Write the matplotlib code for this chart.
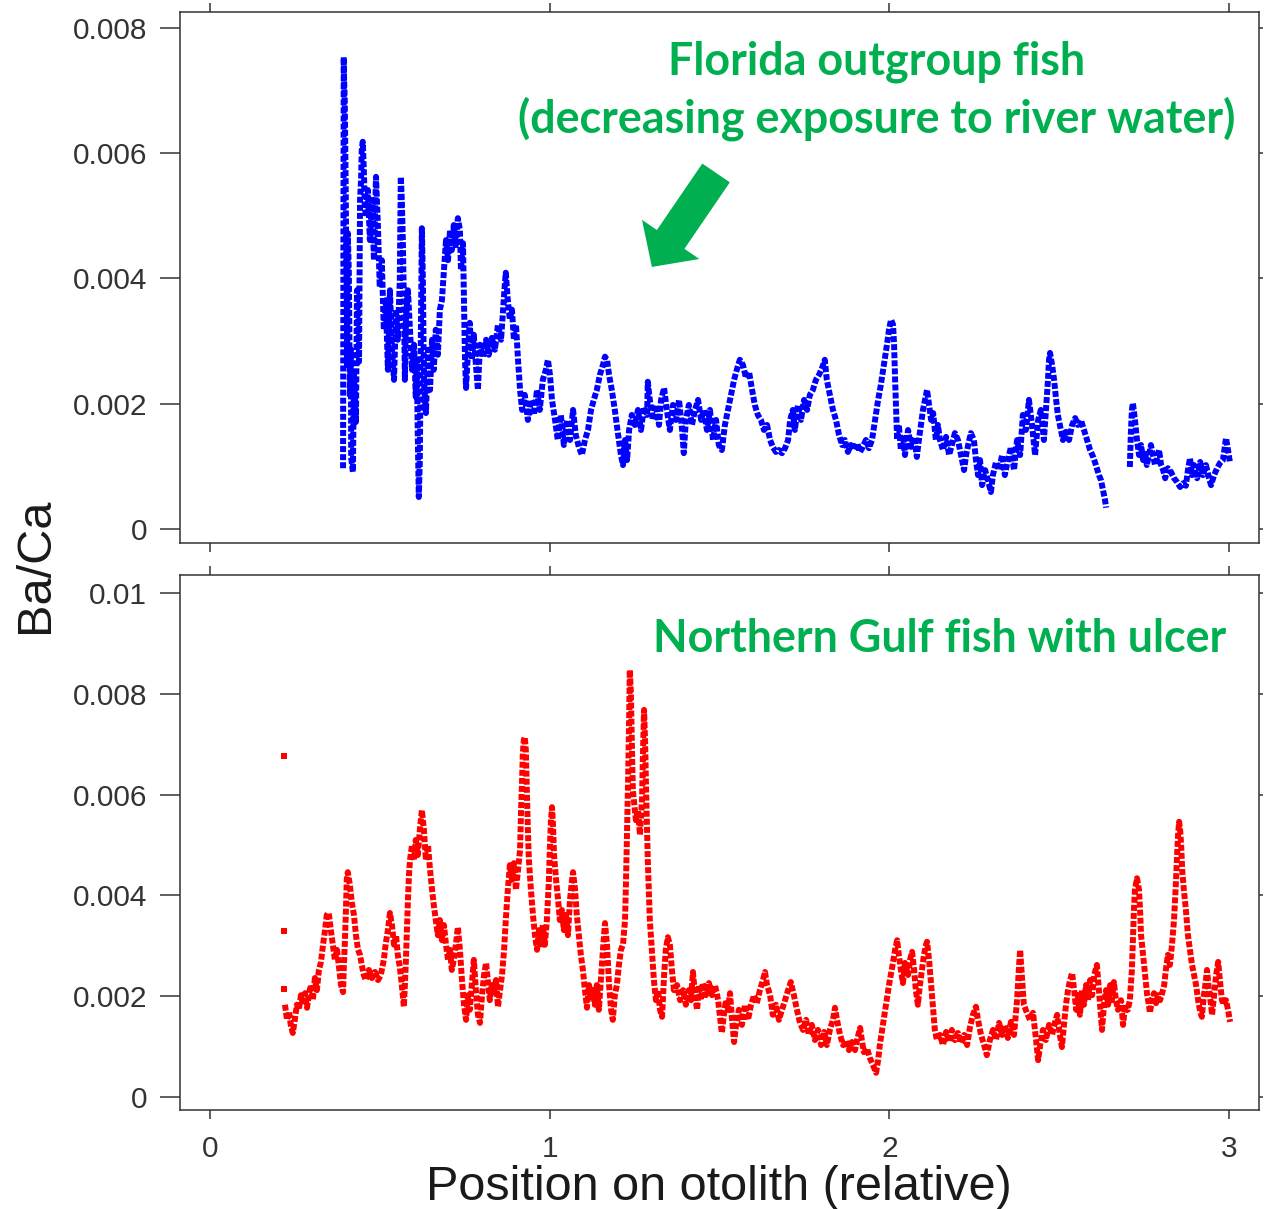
import numpy as np
import matplotlib
matplotlib.use("Agg")
import matplotlib.pyplot as plt

plt.rcParams['font.family'] = ['Liberation Sans', 'DejaVu Sans']

# Florida outgroup fish: position on otolith (relative), Ba/Ca in units of 1e-3
fl_pos = [
    0.392, 0.394, 0.395, 0.397, 0.398, 0.399, 0.400, 0.401, 0.403, 0.404,
    0.406, 0.409, 0.410, 0.412, 0.415, 0.416, 0.421, 0.424, 0.427, 0.430,
    0.433, 0.436, 0.439, 0.442, 0.445, 0.447, 0.450, 0.453, 0.456, 0.459,
    0.465, 0.471, 0.477, 0.483, 0.489, 0.495, 0.500, 0.506, 0.512, 0.518,
    0.524, 0.530, 0.536, 0.542, 0.548, 0.553, 0.559, 0.562, 0.565, 0.568,
    0.571, 0.574, 0.577, 0.583, 0.589, 0.595, 0.601, 0.606, 0.609, 0.612,
    0.615, 0.618, 0.621, 0.624, 0.627, 0.630, 0.636, 0.642, 0.648, 0.654,
    0.659, 0.665, 0.671, 0.677, 0.683, 0.689, 0.695, 0.701, 0.707, 0.712,
    0.718, 0.724, 0.730, 0.736, 0.739, 0.745, 0.748, 0.751, 0.754, 0.760,
    0.765, 0.771, 0.777, 0.783, 0.789, 0.795, 0.804, 0.813, 0.821, 0.830,
    0.839, 0.848, 0.857, 0.863, 0.868, 0.871, 0.877, 0.883, 0.889, 0.895,
    0.901, 0.907, 0.913, 0.919, 0.927, 0.936, 0.945, 0.954, 0.963, 0.971,
    0.980, 0.989, 0.995, 1.001, 1.007, 1.016, 1.024, 1.033, 1.042, 1.051,
    1.060, 1.069, 1.077, 1.086, 1.095, 1.104, 1.113, 1.122, 1.130, 1.139,
    1.148, 1.157, 1.163, 1.169, 1.175, 1.183, 1.192, 1.201, 1.210, 1.216,
    1.222, 1.228, 1.234, 1.242, 1.251, 1.260, 1.269, 1.278, 1.287, 1.289,
    1.295, 1.304, 1.313, 1.322, 1.328, 1.337, 1.345, 1.354, 1.363, 1.372,
    1.381, 1.390, 1.395, 1.401, 1.410, 1.419, 1.428, 1.437, 1.446, 1.454,
    1.463, 1.472, 1.481, 1.490, 1.498, 1.507, 1.516, 1.525, 1.534, 1.543,
    1.551, 1.560, 1.569, 1.578, 1.587, 1.596, 1.604, 1.613, 1.622, 1.631,
    1.640, 1.649, 1.657, 1.666, 1.675, 1.684, 1.693, 1.702, 1.708, 1.716,
    1.722, 1.731, 1.740, 1.749, 1.758, 1.766, 1.775, 1.784, 1.793, 1.802,
    1.810, 1.816, 1.825, 1.834, 1.843, 1.852, 1.861, 1.869, 1.878, 1.887,
    1.896, 1.905, 1.914, 1.922, 1.931, 1.940, 1.949, 1.958, 1.967, 1.975,
    1.984, 1.993, 1.999, 2.005, 2.011, 2.014, 2.017, 2.020, 2.023, 2.028,
    2.034, 2.040, 2.046, 2.055, 2.064, 2.073, 2.081, 2.087, 2.093, 2.099,
    2.105, 2.111, 2.117, 2.123, 2.129, 2.137, 2.143, 2.149, 2.158, 2.167,
    2.176, 2.184, 2.193, 2.202, 2.211, 2.220, 2.226, 2.232, 2.240, 2.249,
    2.255, 2.261, 2.267, 2.273, 2.282, 2.290, 2.299, 2.305, 2.314, 2.323,
    2.332, 2.340, 2.349, 2.358, 2.367, 2.376, 2.385, 2.393, 2.402, 2.411,
    2.420, 2.429, 2.438, 2.446, 2.455, 2.461, 2.467, 2.470, 2.473, 2.479,
    2.485, 2.491, 2.496, 2.502, 2.511, 2.520, 2.529, 2.538, 2.547, 2.555,
    2.564, 2.573, 2.582, 2.591, 2.600, 2.608, 2.617, 2.623, 2.629, 2.635,
    2.638, 2.670, 2.708, 2.711, 2.714, 2.717, 2.723, 2.729, 2.735, 2.741,
    2.747, 2.753, 2.758, 2.764, 2.770, 2.776, 2.782, 2.788, 2.794, 2.800,
    2.806, 2.812, 2.820, 2.829, 2.838, 2.847, 2.856, 2.865, 2.873, 2.879,
    2.885, 2.891, 2.897, 2.906, 2.915, 2.923, 2.932, 2.941, 2.947, 2.956,
    2.965, 2.973, 2.982, 2.988, 2.991, 2.997, 3.003,
]
fl_baca = [
    0.97, 7.53, 7.17, 6.85, 6.37, 5.92, 5.33, 4.61, 3.65, 2.62,
    4.72, 4.10, 3.54, 2.11, 2.86, 1.13, 0.91, 2.49, 2.06, 1.71,
    3.81, 3.30, 2.67, 5.25, 5.57, 6.05, 6.18, 5.76, 5.17, 4.98,
    5.41, 4.61, 5.25, 4.29, 5.62, 4.77, 3.86, 4.29, 3.18, 3.65,
    2.54, 3.81, 2.86, 2.38, 3.50, 3.02, 3.97, 5.62, 5.25, 4.61,
    3.65, 2.38, 3.34, 3.81, 3.18, 2.54, 2.94, 2.11, 2.70, 1.47,
    0.51, 1.10, 3.06, 4.80, 3.97, 2.38, 1.85, 2.86, 2.22, 3.02,
    2.54, 3.18, 2.78, 3.50, 3.65, 4.13, 4.61, 4.29, 4.77, 4.45,
    4.85, 4.53, 4.96, 4.77, 4.13, 4.56, 3.65, 2.70, 2.25, 2.86,
    3.29, 2.70, 3.10, 2.62, 2.22, 2.94, 2.75, 3.02, 2.78, 3.05,
    2.86, 3.26, 3.02, 3.50, 3.89, 4.09, 3.65, 3.34, 3.50, 3.02,
    3.26, 2.70, 2.22, 1.90, 2.14, 1.74, 2.06, 1.82, 2.22, 1.90,
    2.38, 2.54, 2.70, 2.46, 2.06, 1.74, 1.42, 1.82, 1.34, 1.74,
    1.42, 1.90, 1.50, 1.31, 1.18, 1.42, 1.58, 1.90, 2.06, 2.22,
    2.46, 2.62, 2.75, 2.70, 2.46, 2.22, 1.90, 1.53, 1.18, 1.02,
    1.42, 1.10, 1.58, 1.82, 1.66, 1.90, 1.58, 1.95, 1.82, 2.35,
    2.06, 1.74, 1.98, 1.66, 2.06, 2.25, 1.90, 1.58, 1.98, 1.74,
    2.06, 1.58, 1.21, 1.74, 1.98, 1.66, 1.90, 2.06, 1.74, 1.90,
    1.58, 1.90, 1.42, 1.74, 1.34, 1.26, 1.66, 1.90, 2.14, 2.38,
    2.54, 2.70, 2.62, 2.41, 2.51, 2.22, 1.98, 1.82, 1.74, 1.58,
    1.66, 1.42, 1.31, 1.23, 1.26, 1.21, 1.29, 1.42, 1.74, 1.90,
    1.58, 1.98, 1.74, 2.06, 1.90, 2.14, 2.22, 2.38, 2.46, 2.57,
    2.70, 2.38, 2.14, 1.90, 1.74, 1.50, 1.34, 1.42, 1.23, 1.34,
    1.26, 1.37, 1.23, 1.31, 1.42, 1.29, 1.42, 1.74, 2.06, 2.30,
    2.62, 2.94, 3.18, 3.34, 3.26, 2.94, 2.38, 1.90, 1.42, 1.66,
    1.26, 1.50, 1.18, 1.58, 1.31, 1.47, 1.15, 1.42, 1.66, 1.90,
    2.06, 2.22, 1.98, 1.74, 1.85, 1.42, 1.66, 1.42, 1.26, 1.47,
    1.18, 1.34, 1.53, 1.42, 1.18, 0.94, 1.18, 1.34, 1.53, 1.42,
    1.10, 0.86, 1.10, 0.70, 0.94, 0.78, 0.59, 0.86, 1.07, 0.94,
    1.18, 0.86, 1.10, 1.31, 0.94, 1.42, 1.18, 1.82, 1.58, 2.06,
    1.66, 1.18, 1.74, 1.90, 1.42, 1.90, 2.38, 2.70, 2.81, 2.62,
    2.38, 2.06, 1.82, 1.66, 1.42, 1.55, 1.42, 1.66, 1.77, 1.66,
    1.74, 1.58, 1.42, 1.26, 1.15, 1.02, 0.86, 0.78, 0.62, 0.46,
    0.34, np.nan, 0.99, 1.53, 1.90, 2.01, 1.74, 1.42, 1.18, 1.34,
    1.10, 1.26, 1.02, 1.18, 1.34, 1.18, 1.02, 1.10, 1.26, 1.02,
    0.94, 0.81, 0.97, 0.91, 0.81, 0.75, 0.67, 0.73, 0.69, 0.94,
    1.13, 0.86, 1.02, 0.81, 1.07, 0.86, 1.02, 0.81, 0.70, 0.86,
    0.97, 1.05, 1.10, 1.34, 1.45, 1.26, 1.05,
]

# Northern Gulf fish with ulcer
ng_pos = [
    0.221, 0.227, 0.233, 0.238, 0.244, 0.250, 0.256, 0.262, 0.268, 0.274,
    0.280, 0.286, 0.291, 0.297, 0.303, 0.309, 0.315, 0.321, 0.327, 0.333,
    0.339, 0.344, 0.350, 0.356, 0.362, 0.368, 0.374, 0.380, 0.386, 0.392,
    0.394, 0.397, 0.400, 0.403, 0.406, 0.412, 0.418, 0.424, 0.430, 0.436,
    0.442, 0.447, 0.453, 0.459, 0.468, 0.477, 0.486, 0.495, 0.503, 0.512,
    0.518, 0.524, 0.530, 0.536, 0.542, 0.548, 0.553, 0.559, 0.565, 0.571,
    0.574, 0.577, 0.580, 0.583, 0.586, 0.589, 0.595, 0.601, 0.606, 0.612,
    0.618, 0.624, 0.630, 0.636, 0.642, 0.648, 0.654, 0.659, 0.665, 0.671,
    0.677, 0.683, 0.689, 0.695, 0.701, 0.707, 0.712, 0.718, 0.724, 0.730,
    0.736, 0.742, 0.748, 0.754, 0.760, 0.765, 0.771, 0.777, 0.783, 0.789,
    0.795, 0.801, 0.807, 0.813, 0.818, 0.824, 0.830, 0.836, 0.842, 0.848,
    0.854, 0.860, 0.866, 0.871, 0.877, 0.883, 0.889, 0.895, 0.901, 0.907,
    0.913, 0.916, 0.919, 0.921, 0.924, 0.927, 0.930, 0.933, 0.936, 0.939,
    0.945, 0.951, 0.957, 0.963, 0.969, 0.974, 0.980, 0.986, 0.992, 0.998,
    1.001, 1.004, 1.007, 1.010, 1.013, 1.019, 1.025, 1.030, 1.036, 1.042,
    1.048, 1.054, 1.060, 1.066, 1.069, 1.075, 1.080, 1.086, 1.092, 1.098,
    1.104, 1.110, 1.116, 1.122, 1.128, 1.133, 1.139, 1.145, 1.151, 1.157,
    1.163, 1.169, 1.175, 1.181, 1.186, 1.192, 1.198, 1.204, 1.210, 1.216,
    1.222, 1.225, 1.228, 1.231, 1.234, 1.236, 1.239, 1.242, 1.245, 1.248,
    1.254, 1.260, 1.266, 1.272, 1.275, 1.278, 1.281, 1.284, 1.287, 1.289,
    1.292, 1.295, 1.301, 1.307, 1.313, 1.319, 1.325, 1.331, 1.337, 1.342,
    1.348, 1.354, 1.360, 1.366, 1.375, 1.384, 1.393, 1.401, 1.410, 1.416,
    1.422, 1.428, 1.434, 1.440, 1.445, 1.451, 1.460, 1.469, 1.478, 1.487,
    1.496, 1.501, 1.507, 1.513, 1.519, 1.525, 1.531, 1.537, 1.543, 1.549,
    1.557, 1.566, 1.575, 1.584, 1.593, 1.602, 1.610, 1.619, 1.628, 1.634,
    1.640, 1.649, 1.657, 1.666, 1.675, 1.684, 1.693, 1.702, 1.710, 1.719,
    1.728, 1.737, 1.746, 1.755, 1.763, 1.772, 1.781, 1.790, 1.799, 1.808,
    1.816, 1.825, 1.834, 1.840, 1.846, 1.855, 1.864, 1.872, 1.881, 1.890,
    1.899, 1.905, 1.914, 1.919, 1.925, 1.934, 1.943, 1.952, 1.961, 1.967,
    1.972, 1.981, 1.990, 1.999, 2.008, 2.017, 2.023, 2.028, 2.034, 2.040,
    2.046, 2.055, 2.061, 2.067, 2.073, 2.078, 2.084, 2.090, 2.096, 2.102,
    2.108, 2.111, 2.117, 2.123, 2.129, 2.134, 2.140, 2.149, 2.158, 2.167,
    2.176, 2.184, 2.193, 2.202, 2.211, 2.220, 2.229, 2.237, 2.246, 2.255,
    2.261, 2.270, 2.279, 2.287, 2.296, 2.305, 2.314, 2.323, 2.332, 2.340,
    2.349, 2.358, 2.367, 2.376, 2.382, 2.385, 2.390, 2.396, 2.405, 2.414,
    2.423, 2.432, 2.438, 2.444, 2.452, 2.461, 2.470, 2.479, 2.488, 2.494,
    2.502, 2.508, 2.514, 2.520, 2.526, 2.532, 2.538, 2.544, 2.550, 2.555,
    2.561, 2.567, 2.573, 2.579, 2.585, 2.591, 2.597, 2.603, 2.611, 2.617,
    2.626, 2.632, 2.638, 2.644, 2.650, 2.655, 2.661, 2.667, 2.673, 2.682,
    2.688, 2.694, 2.702, 2.708, 2.714, 2.717, 2.720, 2.723, 2.729, 2.735,
    2.738, 2.741, 2.747, 2.753, 2.759, 2.764, 2.767, 2.773, 2.779, 2.785,
    2.791, 2.797, 2.803, 2.809, 2.814, 2.820, 2.826, 2.832, 2.838, 2.844,
    2.847, 2.850, 2.853, 2.856, 2.859, 2.862, 2.867, 2.873, 2.879, 2.885,
    2.891, 2.897, 2.903, 2.909, 2.915, 2.920, 2.926, 2.932, 2.935, 2.941,
    2.947, 2.950, 2.956, 2.962, 2.968, 2.973, 2.979, 2.985, 2.991, 2.997,
    3.003,
]
ng_baca = [
    1.83, 1.53, 1.69, 1.43, 1.27, 1.53, 1.83, 1.73, 2.02, 1.83,
    2.06, 1.77, 2.02, 2.22, 1.92, 2.36, 2.12, 2.52, 2.68, 3.02,
    3.31, 3.61, 3.65, 3.31, 3.02, 2.72, 2.92, 2.58, 2.22, 2.08,
    2.52, 3.02, 3.61, 4.31, 4.46, 4.21, 3.85, 3.61, 3.21, 2.92,
    2.82, 2.62, 2.42, 2.32, 2.52, 2.36, 2.48, 2.32, 2.42, 2.72,
    3.06, 3.31, 3.65, 3.41, 3.02, 3.21, 2.82, 2.58, 2.22, 1.79,
    2.22, 2.72, 3.31, 3.91, 4.40, 4.70, 5.00, 4.70, 5.10, 4.80,
    5.30, 5.69, 5.30, 4.70, 5.00, 4.51, 4.11, 3.81, 3.51, 3.21,
    3.51, 3.11, 3.41, 3.02, 2.72, 2.92, 2.52, 2.72, 3.02, 3.37,
    2.92, 2.32, 1.83, 1.53, 2.02, 1.73, 2.22, 2.72, 2.12, 1.63,
    1.47, 2.02, 2.42, 2.66, 2.32, 1.92, 2.22, 2.02, 2.32, 1.79,
    2.12, 2.42, 2.92, 3.51, 4.11, 4.60, 4.31, 4.64, 4.11, 4.51,
    4.90, 5.69, 6.29, 6.79, 7.08, 7.14, 6.88, 6.09, 5.30, 4.70,
    4.11, 3.61, 3.21, 2.92, 3.31, 2.96, 3.41, 3.02, 3.51, 4.31,
    5.00, 5.49, 5.75, 5.40, 4.80, 4.31, 3.91, 3.51, 3.71, 3.31,
    3.61, 3.21, 3.91, 4.31, 4.46, 4.11, 3.61, 3.21, 2.82, 2.52,
    2.12, 1.77, 2.22, 1.92, 2.12, 1.83, 2.22, 1.73, 2.32, 2.92,
    3.45, 3.02, 2.22, 1.73, 1.53, 2.02, 2.22, 2.62, 2.92, 3.02,
    3.51, 4.31, 5.30, 6.29, 7.48, 8.47, 8.07, 7.08, 6.09, 5.89,
    5.49, 5.69, 5.20, 5.89, 6.88, 7.68, 7.08, 6.09, 5.30, 4.70,
    4.11, 3.51, 2.92, 2.32, 1.92, 2.12, 1.73, 1.59, 2.42, 2.92,
    3.17, 3.02, 2.52, 2.12, 2.22, 1.92, 2.12, 1.83, 2.12, 1.92,
    2.48, 2.02, 1.73, 2.22, 1.92, 2.26, 2.02, 2.26, 2.02, 2.22,
    1.92, 1.63, 1.27, 1.63, 1.92, 1.73, 2.06, 1.53, 1.09, 1.43,
    1.73, 1.43, 1.83, 1.53, 1.83, 2.02, 1.86, 2.12, 2.32, 2.48,
    2.22, 2.02, 1.63, 1.83, 1.53, 1.73, 1.92, 2.12, 2.28, 2.02,
    1.73, 1.47, 1.33, 1.53, 1.23, 1.43, 1.13, 1.33, 1.03, 1.29,
    1.03, 1.33, 1.53, 1.77, 1.53, 1.23, 1.03, 1.13, 0.93, 1.09,
    0.93, 1.13, 1.37, 1.13, 0.89, 0.97, 0.77, 0.63, 0.48, 0.73,
    1.03, 1.43, 1.83, 2.22, 2.56, 2.92, 3.11, 2.82, 2.52, 2.26,
    2.66, 2.42, 2.72, 2.88, 2.52, 2.12, 1.83, 2.22, 2.52, 2.82,
    3.02, 3.08, 2.72, 2.22, 1.73, 1.33, 1.13, 1.23, 1.03, 1.29,
    1.09, 1.33, 1.13, 1.27, 1.07, 1.23, 1.03, 1.37, 1.63, 1.79,
    1.53, 1.23, 1.03, 0.83, 1.13, 1.33, 1.13, 1.47, 1.23, 1.43,
    1.17, 1.49, 1.23, 1.92, 2.62, 2.92, 2.42, 1.83, 1.67, 1.53,
    1.67, 1.13, 0.73, 1.03, 1.33, 1.13, 1.43, 1.23, 1.49, 1.63,
    1.23, 0.99, 1.43, 1.83, 2.12, 2.32, 2.46, 2.12, 1.73, 2.02,
    1.63, 2.12, 1.83, 2.22, 1.92, 2.32, 2.02, 2.42, 2.62, 2.12,
    1.33, 1.83, 2.12, 1.83, 2.22, 1.92, 2.28, 1.92, 1.73, 1.92,
    1.43, 1.83, 1.73, 1.92, 2.52, 3.11, 3.71, 4.11, 4.34, 4.11,
    3.71, 3.21, 2.82, 2.42, 2.02, 1.83, 1.67, 1.92, 2.06, 1.86,
    2.02, 1.92, 2.06, 2.22, 2.52, 2.82, 2.62, 3.02, 3.51, 4.31,
    4.80, 5.20, 5.46, 5.30, 5.00, 4.51, 4.11, 3.71, 3.21, 2.92,
    2.62, 2.42, 2.22, 1.92, 1.69, 1.59, 2.02, 2.32, 2.52, 2.12,
    1.83, 1.63, 2.02, 2.42, 2.68, 2.32, 1.92, 1.83, 1.92, 1.73,
    1.49,
]
# separate early readings of the Northern Gulf fish
ng_first_pos = [0.218, 0.218, 0.218]
ng_first_baca = [6.77, 3.29, 2.14]

top_yticks = [0, 0.002, 0.004, 0.006, 0.008]
top_ylabels = ["0", "0.002", "0.004", "0.006", "0.008"]
bot_yticks = [0, 0.002, 0.004, 0.006, 0.008, 0.01]
bot_ylabels = ["0", "0.002", "0.004", "0.006", "0.008", "0.01"]
xticks = [0, 1, 2, 3]
xlabels = ["0", "1", "2", "3"]

fl_y = np.array(fl_baca) * 1e-3
ng_y = np.array(ng_baca) * 1e-3

fig = plt.figure(figsize=(12.64, 12.09), dpi=100)
ax1 = fig.add_axes([0.1424, 0.5509, 0.8536, 0.4392])
ax2 = fig.add_axes([0.1424, 0.0819, 0.8536, 0.4425])

dark = '#333333'
green = '#00B050'
dot = (0, (1, 0.35))

ax1.plot(fl_pos, fl_y, color='#0000FF', lw=4.3, ls=dot, dash_capstyle='butt')
ax2.plot(ng_pos, ng_y, color='#FF0000', lw=4.3, ls=dot, dash_capstyle='butt')
ax2.plot(ng_first_pos, np.array(ng_first_baca) * 1e-3, 's', color='#FF0000',
         ms=4.3, mew=0)

ax1.set_ylim(-0.000223, 0.008251)
ax2.set_ylim(-0.000258, 0.010356)

for ax, yt, yl in [(ax1, top_yticks, top_ylabels), (ax2, bot_yticks, bot_ylabels)]:
    ax.set_xlim(-0.088, 3.088)
    ax.set_xticks(xticks)
    ax.set_yticks(yt)
    ax.set_yticklabels(yl)
    for s in ax.spines.values():
        s.set_color(dark)
        s.set_linewidth(1.1)
    ax.tick_params(axis='x', direction='out', top=True, bottom=True, length=6.5,
                   width=1.1, color=dark, labelcolor=dark, labelsize=21.5, pad=11.5)
    ax.tick_params(axis='y', direction='out', left=True, right=True, length=14.4,
                   width=1.1, color=dark, labelcolor=dark, labelsize=21.5, pad=9.4)
    for t in ax.yaxis.get_major_ticks():
        t.tick2line.set_markersize(3)

ax1.tick_params(axis='x', labelbottom=False)
ax2.set_xticklabels(xlabels)

fig.text(0.0277, 0.5327, "Ba/Ca", rotation=90, ha='center', va='center',
         fontsize=35, color='#1a1a1a')
fig.text(0.569, 0.0078, "Position on otolith (relative)", ha='center', va='baseline',
         fontsize=35, color='#1a1a1a')

ax1.text(1.9635, 0.007246, "Florida outgroup fish", ha='center', va='baseline',
         fontsize=32.3, fontweight='bold', family=['Lato', 'DejaVu Sans'], color=green)
ax1.text(1.9635, 0.006330, "(decreasing exposure to river water)", ha='center',
         va='baseline', fontsize=32.3, fontweight='bold', family=['Lato', 'DejaVu Sans'],
         color=green)
ax2.text(2.991, 0.008829, "Northern Gulf fish with ulcer", ha='right', va='baseline',
         fontsize=32.3, fontweight='bold', family=['Lato', 'DejaVu Sans'], color=green)

ax1.annotate('', xy=(1.301, 0.004182), xytext=(1.490, 0.005682),
             arrowprops=dict(arrowstyle='simple,head_length=24,head_width=50,tail_width=24',
                             mutation_scale=1, color=green, shrinkA=0, shrinkB=0, lw=0))

fig.savefig('out.png', dpi=100)
